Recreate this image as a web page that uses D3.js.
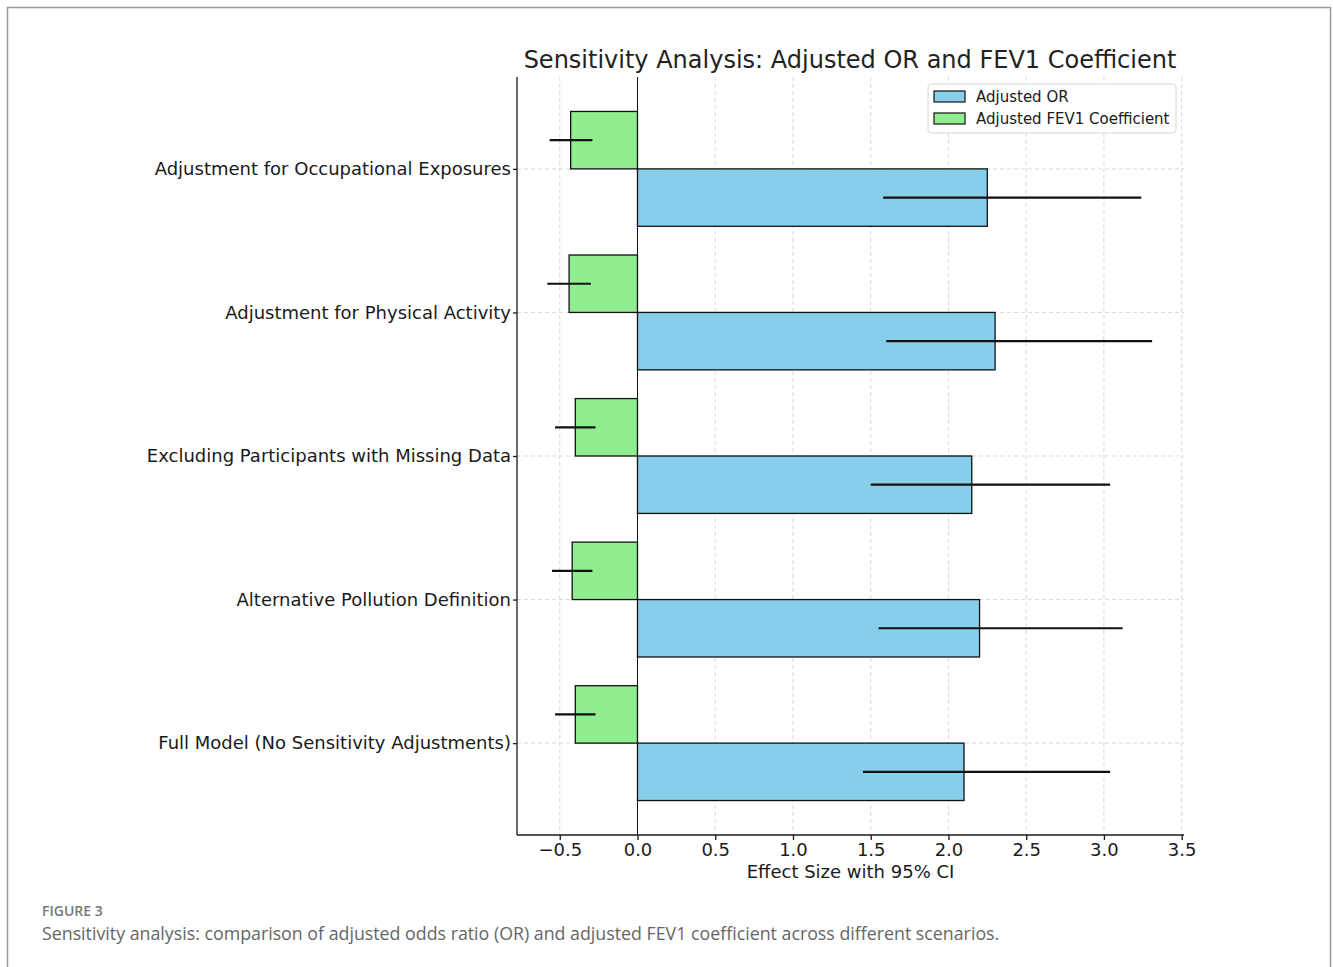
<!DOCTYPE html>
<html>
<head>
<meta charset="utf-8">
<script src="https://cdn.jsdelivr.net/npm/d3@7"></script>
<style>
  body { margin: 0; background: #fff; }
  .grid line { stroke: #cfcfcf; stroke-dasharray: 4,3; stroke-width: 0.8; }
  .axis text { font-family: "DejaVu Sans", sans-serif; font-size: 18px; fill: #1a1a1a; }
  .axis path, .axis line { stroke: #1a1a1a; stroke-width: 1.3; }
</style>
</head>
<body>
<div id="chart"></div>
<script>
// categories, bottom to top as drawn
const scenarios = [
  "Full Model (No Sensitivity Adjustments)",
  "Alternative Pollution Definition",
  "Excluding Participants with Missing Data",
  "Adjustment for Physical Activity",
  "Adjustment for Occupational Exposures"
];
const orValues = [2.10, 2.20, 2.15, 2.30, 2.25];
const orLow = [1.45, 1.55, 1.50, 1.60, 1.58];
const orHigh = [3.04, 3.12, 3.04, 3.31, 3.24];
const fevValues = [-0.40, -0.42, -0.40, -0.44, -0.43];
const fevLow = [-0.53, -0.55, -0.53, -0.58, -0.565];
const fevHigh = [-0.27, -0.29, -0.27, -0.30, -0.29];
const xTicks = [-0.5, 0, 0.5, 1.0, 1.5, 2.0, 2.5, 3.0, 3.5];

const W = 1333, H = 967;
const margin = { top: 77, left: 517, right: 149, bottom: 132 };
const width = W - margin.left - margin.right,
  height = H - margin.top - margin.bottom;

const svg = d3.select("#chart").append("svg")
  .attr("width", W).attr("height", H);

// outer figure frame
svg.append("path")
  .attr("d", "M7.5,980 L7.5,7.5 L1330.5,7.5 L1330.5,980")
  .attr("fill", "none").attr("stroke", "#9a9a9a").attr("stroke-width", 1.5);

const g = svg.append("g")
  .attr("transform", "translate(" + margin.left + "," + margin.top + ")");

const x = d3.scaleLinear().domain([-0.775, 3.515]).range([0, width]);
const y = d3.scaleLinear().domain([-0.64, 4.64]).range([height, 0]);
const barH = y(0) - y(0.4);

// grid
g.append("g").attr("class", "grid")
  .selectAll("line").data(xTicks).join("line")
  .attr("x1", d => x(d)).attr("x2", d => x(d))
  .attr("y1", 0).attr("y2", height);
g.append("g").attr("class", "grid")
  .selectAll("line").data(scenarios).join("line")
  .attr("x1", 0).attr("x2", width)
  .attr("y1", (d, i) => y(i)).attr("y2", (d, i) => y(i));

// bars
g.selectAll(".bar-or").data(orValues).join("rect")
  .attr("class", "bar-or")
  .attr("x", d => x(Math.min(0, d)))
  .attr("width", d => Math.abs(x(d) - x(0)))
  .attr("y", (d, i) => y(i))
  .attr("height", barH)
  .attr("fill", "skyblue").attr("stroke", "#111").attr("stroke-width", 1.3);

g.selectAll(".bar-fev").data(fevValues).join("rect")
  .attr("class", "bar-fev")
  .attr("x", d => x(Math.min(0, d)))
  .attr("width", d => Math.abs(x(d) - x(0)))
  .attr("y", (d, i) => y(i + 0.4))
  .attr("height", barH)
  .attr("fill", "lightgreen").attr("stroke", "#111").attr("stroke-width", 1.3);

// zero line
g.append("line")
  .attr("x1", x(0)).attr("x2", x(0))
  .attr("y1", 0).attr("y2", height)
  .attr("stroke", "#111").attr("stroke-width", 1);

// error bars
g.selectAll(".err-or").data(orValues).join("line")
  .attr("class", "err-or")
  .attr("x1", (d, i) => x(orLow[i])).attr("x2", (d, i) => x(orHigh[i]))
  .attr("y1", (d, i) => y(i - 0.2)).attr("y2", (d, i) => y(i - 0.2))
  .attr("stroke", "#111").attr("stroke-width", 2.2);
g.selectAll(".err-fev").data(fevValues).join("line")
  .attr("class", "err-fev")
  .attr("x1", (d, i) => x(fevLow[i])).attr("x2", (d, i) => x(fevHigh[i]))
  .attr("y1", (d, i) => y(i + 0.2)).attr("y2", (d, i) => y(i + 0.2))
  .attr("stroke", "#111").attr("stroke-width", 2.2);

// axes
const xAxis = g.append("g").attr("class", "axis")
  .attr("transform", "translate(0," + height + ")")
  .call(d3.axisBottom(x).tickValues(xTicks).tickSize(5).tickPadding(3)
    .tickSizeOuter(0).tickFormat(d => d3.format(".1f")(d).replace("-", "\u2212")));
xAxis.select(".domain").attr("d", "M0,0H" + width);

const yAxis = g.append("g").attr("class", "axis")
  .call(d3.axisLeft(y).tickValues(d3.range(scenarios.length)).tickSize(4)
    .tickPadding(2).tickSizeOuter(0).tickFormat(i => scenarios[i]));
yAxis.select(".domain").attr("d", "M0,0V" + height);

g.append("text")
  .attr("x", width / 2).attr("y", height + 43)
  .attr("text-anchor", "middle")
  .style("font-family", "DejaVu Sans, sans-serif").style("font-size", "18px")
  .attr("fill", "#1a1a1a")
  .text("Effect Size with 95% CI");

// title
svg.append("text")
  .attr("x", 850).attr("y", 68)
  .attr("text-anchor", "middle")
  .style("font-family", "DejaVu Sans, sans-serif").style("font-size", "24px")
  .attr("fill", "#222")
  .text("Sensitivity Analysis: Adjusted OR and FEV1 Coefficient");

// legend
const legendItems = [
  { label: "Adjusted OR", color: "skyblue" },
  { label: "Adjusted FEV1 Coefficient", color: "lightgreen" }
];
const lg = svg.append("g").attr("transform", "translate(928,84)");
lg.append("rect")
  .attr("width", 248).attr("height", 49).attr("rx", 3)
  .attr("fill", "#fff").attr("fill-opacity", 0.85)
  .attr("stroke", "#d6d6d6");
lg.selectAll(".lg-patch").data(legendItems).join("rect")
  .attr("class", "lg-patch")
  .attr("x", 6).attr("y", (d, i) => 7 + i * 22)
  .attr("width", 31).attr("height", 11)
  .attr("fill", d => d.color).attr("stroke", "#111").attr("stroke-width", 1.2);
lg.selectAll(".lg-text").data(legendItems).join("text")
  .attr("class", "lg-text")
  .attr("x", 48).attr("y", (d, i) => 18 + i * 22)
  .style("font-family", "DejaVu Sans, sans-serif").style("font-size", "15px")
  .attr("fill", "#1a1a1a")
  .text(d => d.label);

// figure caption
svg.append("text")
  .attr("x", 42).attr("y", 916)
  .style("font-family", "Open Sans, sans-serif").style("font-size", "14px")
  .style("font-weight", 600)
  .attr("fill", "#777")
  .text("FIGURE 3");
svg.append("text")
  .attr("x", 42).attr("y", 940)
  .style("font-family", "Open Sans, sans-serif").style("font-size", "17.8px")
  .attr("fill", "#666")
  .text("Sensitivity analysis: comparison of adjusted odds ratio (OR) and adjusted FEV1 coefficient across different scenarios.");
</script>
</body>
</html>
